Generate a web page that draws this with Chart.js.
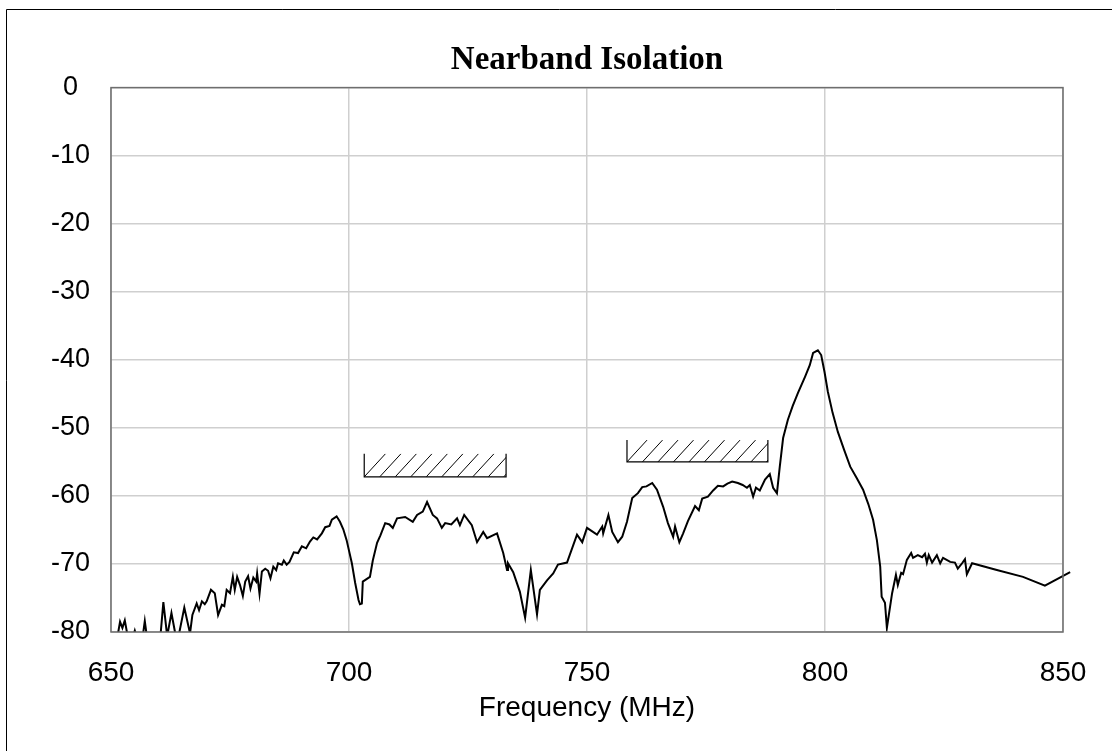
<!DOCTYPE html>
<html>
<head>
<meta charset="utf-8">
<script src="https://cdn.jsdelivr.net/npm/chart.js@4.4.0/dist/chart.umd.min.js"></script>
<style>
  html, body { margin: 0; padding: 0; background: #fff; overflow: hidden; }
  #wrap { width: 1112px; height: 751px; position: relative; }
</style>
</head>
<body>
<div id="wrap"><canvas id="chart" width="1112" height="751"></canvas></div>
<script>
// Measured trace, frequency in MHz and isolation in dB
const freqMHz = [
  650.2, 650.8, 651.4, 651.9, 652.4, 652.9, 653.6, 654.5, 655.0, 655.5,
  656.6, 657.1, 657.6, 659.1, 660.4, 661.0, 661.8, 662.7, 663.6, 664.2,
  665.4, 666.6, 667.1, 668.0, 668.5, 669.1, 669.7, 670.1, 671.0, 671.8,
  672.5, 673.3, 673.8, 674.3, 675.0, 675.6, 676.0, 676.5, 677.1, 677.7,
  678.2, 678.8, 679.3, 679.9, 680.5, 680.7, 681.2, 681.7, 682.4, 683.0,
  683.5, 684.1, 684.7, 685.1, 685.9, 686.3, 686.9, 687.5, 688.4, 689.3,
  690.1, 691.0, 691.8, 692.5, 693.3, 694.3, 695.0, 695.9, 696.4, 697.4,
  698.1, 698.8, 699.5, 700.6, 701.3, 702.0, 702.3, 702.7, 702.9, 704.4,
  705.0, 705.9, 706.6, 707.6, 708.5, 709.2, 710.1, 711.8, 713.4, 714.3,
  715.5, 716.4, 717.6, 718.5, 719.5, 720.2, 721.5, 722.7, 723.3, 724.2,
  725.8, 726.9, 728.2, 729.0, 731.1, 732.4, 733.2, 733.4, 734.5, 735.9,
  737.0, 738.2, 739.5, 740.1, 741.6, 742.9, 743.9, 745.8, 747.9, 749.0,
  750.0, 752.1, 753.2, 753.4, 754.5, 755.3, 756.5, 757.4, 758.4, 759.5,
  760.7, 761.6, 762.5, 763.7, 764.7, 766.0, 767.0, 768.1, 768.5, 769.4,
  770.2, 771.2, 772.7, 773.5, 774.2, 775.4, 776.5, 777.5, 778.6, 779.5,
  780.5, 781.7, 782.7, 783.6, 784.2, 784.9, 785.5, 786.3, 787.4, 788.4,
  789.1, 789.9, 790.5, 791.2, 792.2, 793.2, 794.3, 795.8, 796.8, 797.5,
  798.5, 799.2, 799.9, 800.6, 801.6, 802.7, 804.0, 805.3, 806.6, 808.0,
  809.1, 810.1, 810.9, 811.6, 811.9, 812.6, 813.0, 814.1, 814.9, 815.3,
  816.0, 816.4, 817.2, 818.1, 818.5, 819.5, 820.4, 821.0, 821.4, 821.8,
  822.5, 823.5, 824.2, 824.8, 826.3, 827.3, 827.9, 828.8, 829.4, 829.8,
  830.9, 836.1, 841.6, 846.2, 851.5
];
const isolationDb = [
  -81.0, -80.6, -80.5, -78.5, -79.4, -78.3, -81.0, -81.0, -79.8, -81.0,
  -81.0, -78.4, -81.0, -80.8, -80.5, -75.6, -80.6, -77.2, -80.6, -80.6,
  -76.4, -80.2, -77.5, -75.8, -76.8, -75.5, -75.9, -75.5, -73.8, -74.3,
  -77.5, -76.0, -76.2, -73.8, -74.3, -71.9, -73.8, -71.9, -73.1, -74.7,
  -72.6, -71.8, -73.6, -72.0, -72.6, -71.4, -74.4, -71.1, -70.7, -71.0,
  -72.1, -70.4, -70.9, -69.9, -70.1, -69.5, -70.1, -69.7, -68.3, -68.4,
  -67.4, -67.7, -66.7, -66.1, -66.4, -65.5, -64.6, -64.4, -63.5, -63.0,
  -63.8, -64.9, -66.5, -69.9, -72.8, -75.3, -75.9, -75.8, -72.6, -71.9,
  -69.5, -66.9, -65.8, -64.0, -64.2, -64.7, -63.3, -63.1, -63.8, -62.8,
  -62.3, -60.9, -62.8, -63.3, -64.7, -64.0, -64.2, -63.3, -64.3, -62.8,
  -64.3, -66.8, -65.3, -66.2, -65.5, -68.4, -70.9, -69.9, -71.2, -74.1,
  -77.9, -70.9, -77.4, -73.8, -72.4, -71.4, -70.1, -69.8, -65.7, -66.8,
  -64.7, -65.7, -64.5, -65.5, -62.8, -65.3, -66.8, -66.0, -63.8, -60.3,
  -59.6, -58.7, -58.6, -58.1, -59.1, -61.6, -64.0, -66.0, -64.5, -66.8,
  -65.5, -63.7, -61.5, -62.1, -60.4, -60.1, -59.2, -58.5, -58.6, -58.2,
  -57.9, -58.1, -58.4, -58.8, -58.4, -60.1, -58.8, -59.2, -57.6, -56.8,
  -58.8, -59.6, -55.7, -51.5, -48.8, -46.8, -44.9, -42.5, -40.8, -39.0,
  -38.6, -39.3, -41.8, -44.7, -47.8, -50.6, -53.2, -55.7, -57.3, -59.1,
  -61.2, -63.5, -66.5, -70.4, -74.8, -75.7, -79.4, -74.3, -71.6, -73.1,
  -71.3, -71.5, -69.4, -68.4, -69.1, -68.7, -69.0, -68.5, -69.8, -68.7,
  -69.8, -68.7, -69.9, -69.1, -69.7, -69.8, -70.7, -69.9, -69.3, -71.5,
  -69.9, -70.9, -71.9, -73.2, -71.2
];
const xTicks = [650, 700, 750, 800, 850];
const yTicks = [0, -10, -20, -30, -40, -50, -60, -70, -80];

// hatched pass bands (MHz / dB)
const bandStart = [703.2, 758.4];
const bandEnd = [733.0, 788.0];
const bandTop = [-53.8, -51.8];
const bandBottom = [-57.2, -55.0];

const tickFont = { family: "'Liberation Sans', Arial, sans-serif", size: 27 };

const decor = {
  id: 'decor',
  beforeDraw(chart) {
    const ctx = chart.ctx;
    ctx.save();
    ctx.fillStyle = '#fff';
    ctx.fillRect(0, 0, chart.width, chart.height);
    ctx.strokeStyle = '#000';
    ctx.lineWidth = 1;
    ctx.beginPath();
    ctx.moveTo(6.5, chart.height);
    ctx.lineTo(6.5, 9.5);
    ctx.lineTo(chart.width, 9.5);
    ctx.stroke();
    ctx.restore();
  },
  afterDatasetsDraw(chart) {
    const ctx = chart.ctx;
    const xs = chart.scales.x, ys = chart.scales.y;
    const a = chart.chartArea;
    ctx.save();
    ctx.strokeStyle = '#6e6e6e';
    ctx.lineWidth = 1.5;
    ctx.strokeRect(a.left, a.top, a.right - a.left, a.bottom - a.top);

    ctx.strokeStyle = '#000';
    for (let i = 0; i < bandStart.length; i++) {
      const x0 = xs.getPixelForValue(bandStart[i]);
      const x1 = xs.getPixelForValue(bandEnd[i]);
      const yT = ys.getPixelForValue(bandTop[i]);
      const yB = ys.getPixelForValue(bandBottom[i]);
      const h = yB - yT;
      ctx.save();
      ctx.beginPath();
      ctx.rect(x0, yT, x1 - x0, h);
      ctx.clip();
      ctx.lineWidth = 1;
      ctx.beginPath();
      for (let x = x0; x < x1; x += 15.5) {
        ctx.moveTo(x, yB);
        ctx.lineTo(x + h * 0.92, yT);
      }
      ctx.stroke();
      ctx.restore();
      ctx.lineWidth = 1.2;
      ctx.beginPath();
      ctx.moveTo(x0, yT);
      ctx.lineTo(x0, yB);
      ctx.lineTo(x1, yB);
      ctx.lineTo(x1, yT);
      ctx.stroke();
    }
    ctx.restore();
  }
};

new Chart(document.getElementById('chart'), {
  type: 'line',
  data: {
    datasets: [{
      data: freqMHz.map((f, i) => ({ x: f, y: isolationDb[i] })),
      borderColor: '#000',
      borderWidth: 2,
      pointRadius: 0,
      tension: 0,
      fill: false,
      clip: { left: 0, top: 0, right: 10, bottom: 0 }
    }]
  },
  options: {
    responsive: false,
    animation: false,
    events: [],
    layout: { padding: { left: 0, right: 49, top: 0, bottom: 0 } },
    plugins: {
      legend: { display: false },
      tooltip: { enabled: false },
      title: {
        display: true,
        fullSize: false,
        text: 'Nearband Isolation',
        color: '#000',
        font: { family: "'Liberation Serif', 'Times New Roman', serif", size: 33, weight: 'bold' },
        padding: { top: 41, bottom: 7 }
      }
    },
    scales: {
      x: {
        type: 'linear',
        min: 650,
        max: 850,
        afterBuildTicks: s => { s.ticks = xTicks.map(v => ({ value: v })); },
        grid: { color: '#cfcfcf', lineWidth: 1.5, drawTicks: false },
        border: { display: false },
        ticks: { font: { ...tickFont, size: 28 }, color: '#000', padding: 24, maxRotation: 0, autoSkip: false },
        title: {
          display: true,
          text: 'Frequency (MHz)',
          color: '#000',
          font: { ...tickFont, size: 28 },
          padding: { top: 0, bottom: 26 }
        },
        afterFit: s => { s.height = 119; }
      },
      y: {
        type: 'linear',
        min: -80,
        max: 0,
        afterBuildTicks: s => { s.ticks = yTicks.map(v => ({ value: v })); },
        grid: { color: '#cfcfcf', lineWidth: 1.5, drawTicks: false },
        border: { display: false },
        ticks: { font: tickFont, color: '#000', padding: 21, crossAlign: 'center', autoSkip: false },
        afterFit: s => { s.width = 111; }
      }
    }
  },
  plugins: [decor]
});
</script>
</body>
</html>
